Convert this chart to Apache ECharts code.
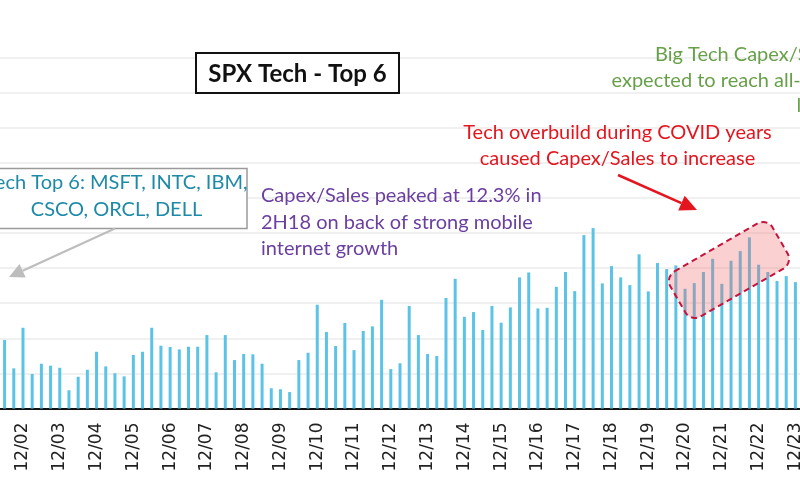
<!DOCTYPE html>
<html>
<head>
<meta charset="utf-8">
<script src="https://cdn.jsdelivr.net/npm/echarts@6/dist/echarts.min.js"></script>
<style>
  html, body { margin: 0; padding: 0; background: #fff; }
  #chart { width: 800px; height: 500px; }
</style>
</head>
<body>
<div id="chart"></div>
<script>
// quarter-end months, years shown (2002 - 2023)
const years = ['02', '03', '04', '05', '06', '07', '08', '09', '10', '11', '12',
  '13', '14', '15', '16', '17', '18', '19', '20', '21', '22', '23']
const quarterMonths = ['3', '6', '9', '12']

// capex / sales (%), one bar per quarter, 6/02 .. 12/23
const capexSales = [
  4.88, 2.86, 5.75, 2.46, 3.19, 3.05, 2.90, 1.30, 2.26, 2.76, 4.04, 3.00, 2.51, 2.29, 3.81, 4.04, 5.75, 4.47, 4.38, 4.21, 4.40, 4.40,
  5.23, 2.58, 5.23, 3.45, 3.88, 3.86, 3.19, 1.44, 1.37, 1.17, 3.45, 3.97, 7.39, 5.45, 4.45, 6.09, 4.16, 5.52, 5.85, 7.74, 2.81,
  3.22, 7.30, 5.23, 3.88, 3.74, 7.87, 9.24, 6.53, 6.87, 5.59, 7.30, 6.11, 7.20, 9.34, 9.69, 7.13, 7.17, 8.67, 9.72, 8.36, 12.35, 12.85,
  8.91, 10.14, 9.34, 8.79, 10.98, 8.34, 10.36, 9.93, 10.19, 8.53, 8.93, 9.72, 10.66, 8.88, 10.52, 11.21, 12.19, 10.24, 9.72, 9.08, 9.43, 9.00
]

const yTicks = { min: 0, max: 25, interval: 2.5 }

// build quarter labels, first visible bar is 6/02
const categories = []
years.forEach(y => {
  quarterMonths.forEach(m => categories.push(m + '/' + y))
})
categories.shift()

const yearEnd = (idx, val) => String(val).indexOf('12/') === 0

const FONT = 'Lato, "Noto Sans", sans-serif'

// arrow = line + triangle head
function arrow(x1, y1, x2, y2, color, width, headLen, headW) {
  const a = Math.atan2(y2 - y1, x2 - x1)
  const bx = x2 - headLen * Math.cos(a)
  const by = y2 - headLen * Math.sin(a)
  const px = -Math.sin(a) * headW
  const py = Math.cos(a) * headW
  return [
    {
      type: 'line', z: 50,
      shape: { x1: x1, y1: y1, x2: bx, y2: by },
      style: { stroke: color, lineWidth: width }
    },
    {
      type: 'polygon', z: 50,
      shape: { points: [[x2, y2], [bx + px, by + py], [bx - px, by - py]] },
      style: { fill: color }
    }
  ]
}

function label(text, x, y, color, size, align, weight) {
  return {
    type: 'text', z: 60,
    x: x, y: y,
    style: {
      text: text,
      fill: color,
      font: (weight || 'normal') + ' ' + size + 'px ' + FONT,
      align: align || 'center',
      textAlign: align || 'center',
      verticalAlign: 'middle',
      textVerticalAlign: 'middle',
      lineHeight: 26.5
    }
  }
}

const chart = echarts.init(document.getElementById('chart'))

const option = {
  animation: false,
  backgroundColor: '#fff',
  grid: {
    left: 0,
    right: 0,
    top: 57.5,
    bottom: 91.5,
    containLabel: false,
    outerBoundsMode: 'none'
  },
  xAxis: {
    type: 'category',
    data: categories,
    boundaryGap: true,
    axisLine: { lineStyle: { color: '#111', width: 2 } },
    axisTick: {
      alignWithLabel: true,
      interval: yearEnd,
      length: 5,
      lineStyle: { color: '#111', width: 2 }
    },
    axisLabel: {
      interval: yearEnd,
      rotate: 90,
      margin: 14,
      fontSize: 17,
      fontFamily: 'DejaVu Sans',
      color: '#222'
    },
    splitLine: { show: false }
  },
  yAxis: {
    type: 'value',
    min: yTicks.min,
    max: yTicks.max,
    interval: yTicks.interval,
    axisLabel: { show: false },
    axisLine: { show: false },
    axisTick: { show: false },
    splitLine: { lineStyle: { color: '#ebebeb', width: 1.5 } }
  },
  series: [
    {
      type: 'bar',
      data: capexSales,
      barWidth: 3,
      itemStyle: { color: '#5BC3E6' }
    }
  ],
  graphic: {
    elements: [
      // title box
      {
        type: 'rect', z: 40,
        shape: { x: 196, y: 53, width: 203, height: 40 },
        style: { fill: '#fff', stroke: '#111', lineWidth: 2 }
      },
      label('SPX Tech - Top 6', 297.5, 74, '#111', 24, 'center', 'bold'),

      // constituents box
      {
        type: 'rect', z: 40,
        shape: { x: -20, y: 168.5, width: 267, height: 60 },
        style: { fill: '#fff', stroke: '#9a9a9a', lineWidth: 1.5 }
      },
      label('Tech Top 6: MSFT, INTC, IBM,\nCSCO, ORCL, DELL', 116.5, 196, '#1E8AA8', 20),
      ...arrow(115, 228.5, 9, 277, '#BDBDBD', 2, 15, 7.5),

      // peak note
      label('Capex/Sales peaked at 12.3% in\n2H18 on back of strong mobile\ninternet growth', 261, 222.5, '#6B3FA0', 20, 'left'),

      // covid note
      label('Tech overbuild during COVID years\ncaused Capex/Sales to increase', 617.5, 145.5, '#E3161F', 20),
      ...arrow(618, 175, 697, 210, '#E3161F', 2.5, 17, 8),

      // highlighted covid bars
      {
        type: 'rect', z: 45,
        x: 729, y: 270,
        rotation: Math.PI / 6,
        shape: { x: -59, y: -26, width: 118, height: 52, r: 11 },
        style: {
          fill: 'rgba(240, 110, 110, 0.32)',
          stroke: '#C4143C',
          lineWidth: 2,
          lineDash: [6, 4]
        }
      },

      // big tech note (cut at the right edge)
      label('Big Tech Capex/Sales is', 655, 55, '#68A04A', 20, 'left'),
      label('expected to reach all-time', 611.5, 80.5, '#68A04A', 20, 'left'),
      label('levels', 796.5, 106, '#68A04A', 20, 'left')
    ]
  }
}

chart.setOption(option)
</script>
</body>
</html>
